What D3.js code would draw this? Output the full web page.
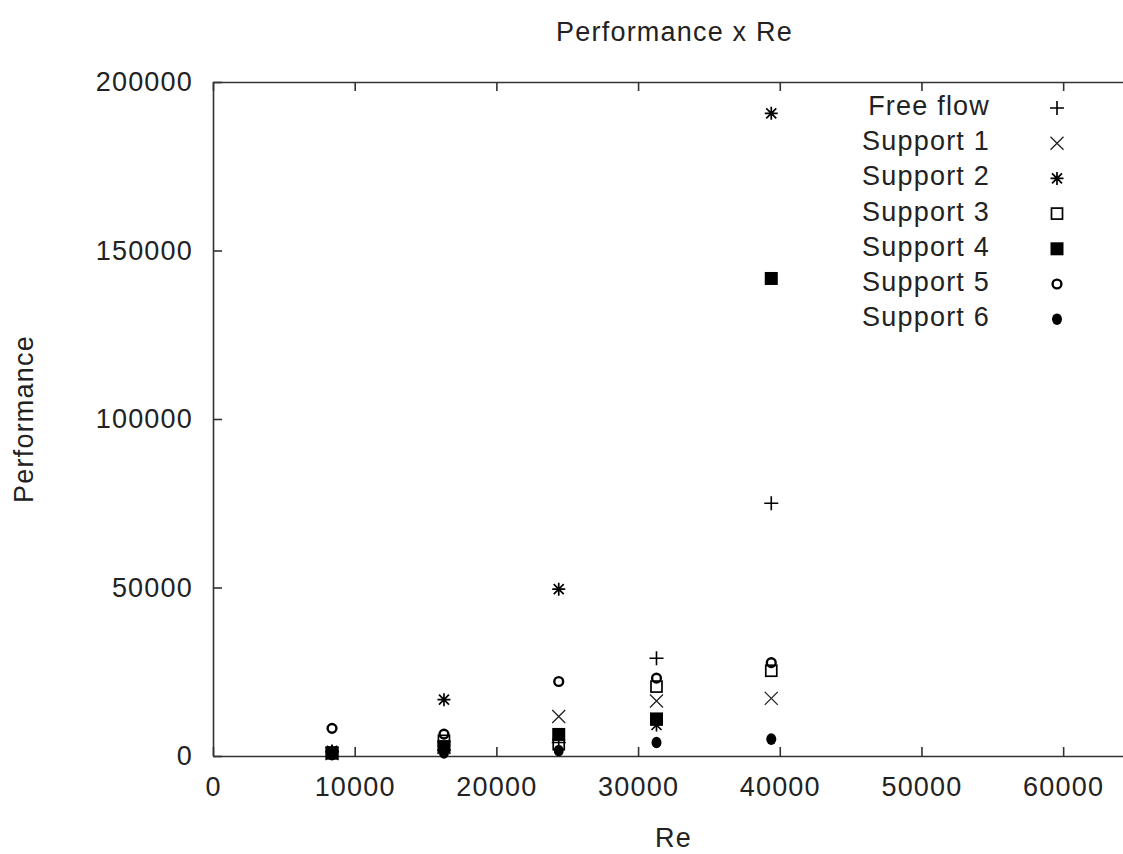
<!DOCTYPE html>
<html><head><meta charset="utf-8">
<script src="https://cdn.jsdelivr.net/npm/d3@7"></script>
<style>
body{margin:0;background:#fff}
svg{display:block}
text{font-family:"Liberation Sans",Arial,sans-serif;fill:#222;font-size:27px;letter-spacing:1.2px}
</style>
</head><body>
<svg id="c" width="1123" height="854"></svg>
<script>
// ---- data ----
const reValues   = [8400, 16300, 24400, 31300, 39400];
const seriesNames = ["Free flow","Support 1","Support 2","Support 3","Support 4","Support 5","Support 6"];
const freeFlow  = [1200, 1800, 4000, 29000, 75000];
const support1  = [700, 2500, 11700, 16300, 17100];
const support2  = [1500, 16700, 49500, 9200, 190700];
const support3  = [800, 4500, 3500, 20600, 25300];
const support4  = [1000, 2800, 6400, 11000, 141700];
const support5  = [8200, 6500, 22100, 23100, 27700];
const support6  = [400, 900, 1600, 4000, 5000];
const xTickValues = [0, 10000, 20000, 30000, 40000, 50000, 60000];
const yTickValues = [0, 50000, 100000, 150000, 200000];
const chartTitle = "Performance x Re";
const xTitle = "Re";
const yTitle = "Performance";

const seriesValues = [freeFlow, support1, support2, support3, support4, support5, support6];
const markerTypes = ["plus","cross","star","openSquare","filledSquare","openCircle","filledCircle"];

const svg = d3.select("#c");
const L = 213, R = 1134, T = 82, B = 756;
const x = d3.scaleLinear().domain([0, 65000]).range([L, R]);
const y = d3.scaleLinear().domain([0, 200000]).range([B, T]);

const axisColor = "#333";
function styleAxis(g){
  g.selectAll("path.domain").attr("stroke", axisColor).attr("stroke-width", 1.6);
  g.selectAll(".tick line").attr("stroke", axisColor).attr("stroke-width", 1.6);
  g.selectAll(".tick text").attr("fill", "#222").style("font-size","27px")
    .style("font-family",'"Liberation Sans",Arial,sans-serif');
}
// bottom
svg.append("g").attr("transform", `translate(0,${B})`)
  .call(d3.axisBottom(x).tickValues(xTickValues).tickFormat(d3.format("d")).tickSizeInner(-9).tickSizeOuter(0).tickPadding(21))
  .call(styleAxis);
// top
svg.append("g").attr("transform", `translate(0,${T})`)
  .call(d3.axisTop(x).tickValues(xTickValues).tickFormat("").tickSizeInner(-9).tickSizeOuter(0))
  .call(styleAxis);
// left
svg.append("g").attr("transform", `translate(${L},0)`)
  .call(d3.axisLeft(y).tickValues(yTickValues).tickFormat(d3.format("d")).tickSizeInner(-9).tickSizeOuter(0).tickPadding(20))
  .call(styleAxis);
// right
svg.append("g").attr("transform", `translate(${R},0)`)
  .call(d3.axisRight(y).tickValues(yTickValues).tickFormat("").tickSizeInner(-9).tickSizeOuter(0))
  .call(styleAxis);
svg.selectAll("g text").attr("fill","#222");

// titles
svg.append("text").attr("x", (L + R) / 2 + 1).attr("y", 41).attr("text-anchor","middle").text(chartTitle);
svg.append("text").attr("x", (L + R) / 2).attr("y", 847).attr("text-anchor","middle").text(xTitle);
svg.append("text").attr("transform", `translate(33,${(T + B) / 2}) rotate(-90)`).attr("text-anchor","middle").text(yTitle);

// markers
function drawMarker(g, type, cx, cy){
  const k = "#000";
  if (type === "plus") {
    g.append("path").attr("d", `M${cx-7},${cy}h14M${cx},${cy-7}v14`).attr("stroke", k).attr("stroke-width", 1.6).attr("fill","none");
  } else if (type === "cross") {
    g.append("path").attr("d", `M${cx-6.5},${cy-6.5}l13,13M${cx-6.5},${cy+6.5}l13,-13`).attr("stroke", "#222").attr("stroke-width", 1.3).attr("fill","none");
  } else if (type === "star") {
    g.append("path").attr("d", `M${cx-6.5},${cy}h13M${cx},${cy-6.5}v13M${cx-5},${cy-5}l10,10M${cx-5},${cy+5}l10,-10`).attr("stroke", k).attr("stroke-width", 1.7).attr("fill","none");
  } else if (type === "openSquare") {
    g.append("rect").attr("x", cx-5.5).attr("y", cy-5.5).attr("width", 11).attr("height", 11).attr("stroke", k).attr("stroke-width", 1.7).attr("fill","none");
  } else if (type === "filledSquare") {
    g.append("rect").attr("x", cx-6.5).attr("y", cy-6.5).attr("width", 13).attr("height", 13).attr("fill", k);
  } else if (type === "openCircle") {
    g.append("circle").attr("cx", cx).attr("cy", cy).attr("r", 4.4).attr("stroke", k).attr("stroke-width", 2.4).attr("fill","none");
  } else if (type === "filledCircle") {
    g.append("ellipse").attr("cx", cx).attr("cy", cy).attr("rx", 5).attr("ry", 5.8).attr("fill", k);
  }
}

const pts = svg.append("g");
seriesValues.forEach((vals, si) => {
  vals.forEach((v, i) => drawMarker(pts, markerTypes[si], x(reValues[i]), y(v)));
});

// legend
const lg = svg.append("g");
seriesNames.forEach((name, i) => {
  const rowY = 107 + i * 35.2;
  lg.append("text").attr("x", 990).attr("y", rowY + 8).attr("text-anchor","end").text(name);
  drawMarker(lg, markerTypes[i], 1057, rowY + 1);
});
</script>
</body></html>
